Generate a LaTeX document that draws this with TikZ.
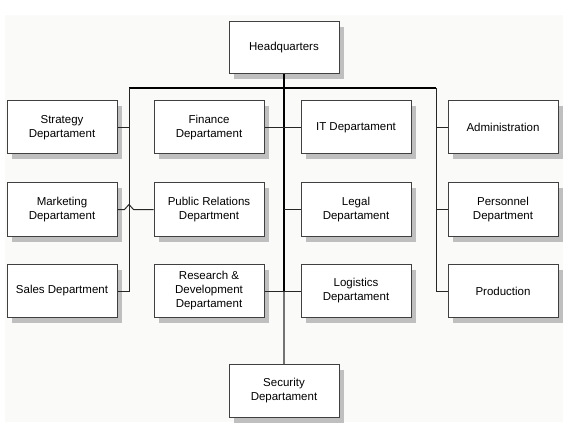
\documentclass[tikz,border=0pt]{standalone}
\usepackage{fontspec}
\setmainfont{Liberation Sans}
\usetikzlibrary{shadows,positioning}
\definecolor{sheet}{RGB}{250,251,248}

\begin{document}
\begin{tikzpicture}[x=1pt,y=-1pt,
  dept/.style={draw=black!75,line width=1pt,fill=white,inner sep=0pt,
    minimum width=110pt,minimum height=53pt,align=center,
    font=\fontsize{11.5}{14}\selectfont,
    drop shadow={shadow xshift=5pt,shadow yshift=-5.5pt,fill=black!25,opacity=1}},
  link/.style={line width=1pt,black!85},
  bus/.style={line width=2pt,black}]
  \pgfmathsetmacro {\cA}{62}    %column 1
  \pgfmathsetmacro {\cB}{209}   %column 2
  \pgfmathsetmacro {\cC}{356}   %column 3
  \pgfmathsetmacro {\cD}{503}   %column 4
  \pgfmathsetmacro {\rA}{127.5} %row 1
  \pgfmathsetmacro {\rB}{209.5} %row 2
  \pgfmathsetmacro {\rC}{291}   %row 3
  \pgfmathsetmacro {\hw}{4.5}   %half width of line hop

  \useasboundingbox (0,0) rectangle (574,436);
  \fill[sheet] (5,15) rectangle (563,422) ; %sheet

  %Boxes
  \node[dept,minimum height=52pt] (hq) at (284,47.5) {Headquarters};
  \node[dept] (strat) at (\cA,\rA) {Strategy\\Departament};
  \node[dept] (fin)   at (\cB,\rA) {Finance\\Departament};
  \node[dept] (it)    at (\cC,\rA) {IT Departament};
  \node[dept] (adm)   at (\cD,\rA) {Administration};
  \node[dept] (mkt)   at (\cA,\rB) {Marketing\\Departament};
  \node[dept] (pr)    at (\cB,\rB) {Public Relations\\Department};
  \node[dept] (legal) at (\cC,\rB) {Legal\\Departament};
  \node[dept] (pers)  at (\cD,\rB) {Personnel\\Department};
  \node[dept] (sales) at (\cA,\rC) {Sales Department};
  \node[dept] (rd)    at (\cB,\rC) {Research \&\\Development\\Departament};
  \node[dept] (logi)  at (\cC,\rC) {Logistics\\Departament};
  \node[dept] (prod)  at (\cD,\rC) {Production};
  \node[dept] (sec)   at (284,390.5) {Security\\Departament};

  %Bus corners
  \coordinate (lt) at (129,88) ; %left end of top bus
  \coordinate (rt) at (436,88) ; %right end of top bus
  \coordinate (hop) at (lt |- mkt.east) ; %line hop on left bus

  %Trunk and buses
  \draw[bus] (lt) -- (rt) ;
  \draw[bus] (hq.south) -- (hq.south |- rd.east) ;
  \draw[bus,black!55] (hq.south |- rd.east) -- (sec.north) ;
  \draw[link] (lt) |- (sales.east) ;  %left bus
  \draw[link] (rt) |- (prod.west) ;   %right bus

  %Stubs
  \draw[link] (strat.east) -- (strat.east -| lt) ;
  \draw[link] (mkt.east) -- ([xshift=-\hw pt]hop) -- ([yshift=5pt]hop)
    -- ([xshift=\hw pt]hop) -- (pr.west) ;
  \draw[link] (fin.east) -- (fin.east -| hq.south) ;
  \draw[link] (it.west) -- (it.west -| hq.south) ;
  \draw[link] (legal.west) -- (legal.west -| hq.south) ;
  \draw[link] (rd.east) -- (logi.west) ;
  \draw[link] (adm.west) -- (adm.west -| rt) ;
  \draw[link] (pers.west) -- (pers.west -| rt) ;
\end{tikzpicture}
\end{document}
